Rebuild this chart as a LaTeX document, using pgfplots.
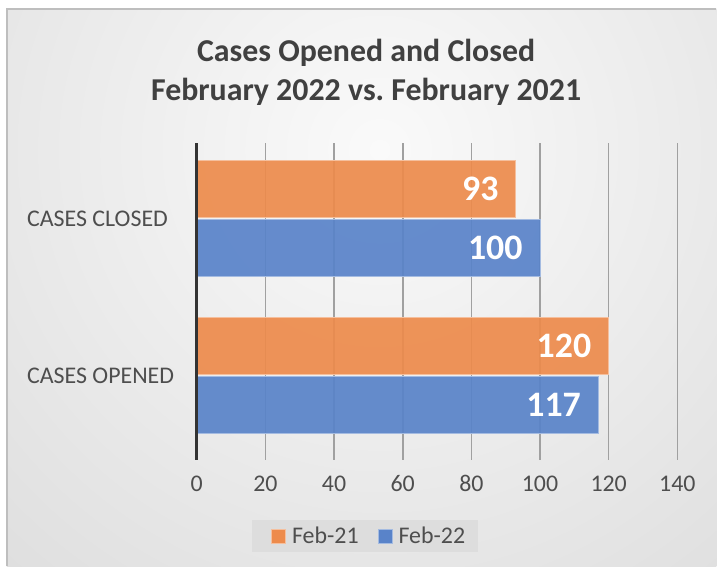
\documentclass[border=0pt]{standalone}
\usepackage{fontspec}
\setmainfont{Carlito}
\usepackage{pgfplots}
\pgfplotsset{compat=1.18}
\definecolor{barorange}{RGB}{237,139,76}
\definecolor{barblue}{RGB}{89,131,201}
\definecolor{txtgray}{RGB}{78,78,78}
\definecolor{titlegray}{RGB}{64,64,64}
\definecolor{gridgray}{RGB}{160,160,160}
\definecolor{bginner}{RGB}{250,250,250}
\definecolor{bgouter}{RGB}{196,196,196}
\definecolor{legfill}{RGB}{221,221,221}
\definecolor{borderc}{RGB}{190,190,190}
\pgfplotsset{sqlegend/.style={legend image code/.code={\path (0bp,0bp); \draw[##1, line width=1bp, fill opacity=1] (6bp,-7bp) rectangle (20bp,7bp);}}}
\begin{document}
\begin{tikzpicture}[x=1bp,y=1bp]
\fill[white] (0,0) rectangle (717,567);
\begin{scope}
\clip (7,0) rectangle (717,558);
\shade[inner color=bginner, outer color=bgouter] (380,417) circle (1120);
\end{scope}
\draw[line width=1.5bp, borderc] (7,0) -- (7,558) -- (717,558);
\node[anchor=base, font=\fontsize{32}{38}\selectfont\bfseries, text=titlegray] at (366.5,505) {Cases Opened and Closed};
\node[anchor=base, font=\fontsize{32}{38}\selectfont\bfseries, text=titlegray] at (366.5,466) {February 2022 vs.\ February 2021};
\begin{axis}[
  at={(197bp,107bp)}, anchor=south west, scale only axis,
  width=481bp, height=317bp,
  xmin=0, xmax=140, ymin=-0.535, ymax=1.484,
  xtick={0,20,...,140}, ytick={0,1}, yticklabels={CASES OPENED, CASES CLOSED},
  xbar, bar width=0.363,
  axis lines*=left, x axis line style={draw=none},
  y axis line style={draw=none},
  major tick length=0,
  xmajorgrids, major grid style={line width=1.6bp, gridgray},
  ticklabel style={font=\fontsize{24}{28}\selectfont, text=txtgray},
  xticklabel style={anchor=base, yshift=-32bp, inner sep=0pt},
  yticklabel style={anchor=west, xshift=-170bp, inner sep=0pt},
  /pgf/number format/assume math mode=true,
  nodes near coords,
  nodes near coords style={anchor=east, xshift=-17bp, inner sep=0pt, font=\fontsize{36}{42}\selectfont\bfseries, text=white, text opacity=1},
  legend style={at={(0.3503,-0.2429)}, anchor=center, draw=none, fill=legfill,
    legend columns=2, font=\fontsize{24}{28}\selectfont, text=txtgray,
    nodes={inner xsep=0pt},
    /tikz/every odd column/.append style={column sep=6bp},
    /tikz/every even column/.append style={column sep=13bp},
    inner xsep=13bp, inner ysep=5bp},
  clip=false,
]
\addplot[sqlegend, fill=barorange, draw=barorange!55!white, line width=1bp, fill opacity=0.92, bar shift=0.188] coordinates {(120,0) (93,1)};
\addplot[sqlegend, fill=barblue, draw=barblue!55!white, line width=1bp, fill opacity=0.92, bar shift=-0.188] coordinates {(117,0) (100,1)};
\legend{Feb-21, Feb-22}
\draw[line width=3bp, black!80] (axis cs:0,-0.535) -- (axis cs:0,1.484);
\end{axis}
\end{tikzpicture}
\end{document}
